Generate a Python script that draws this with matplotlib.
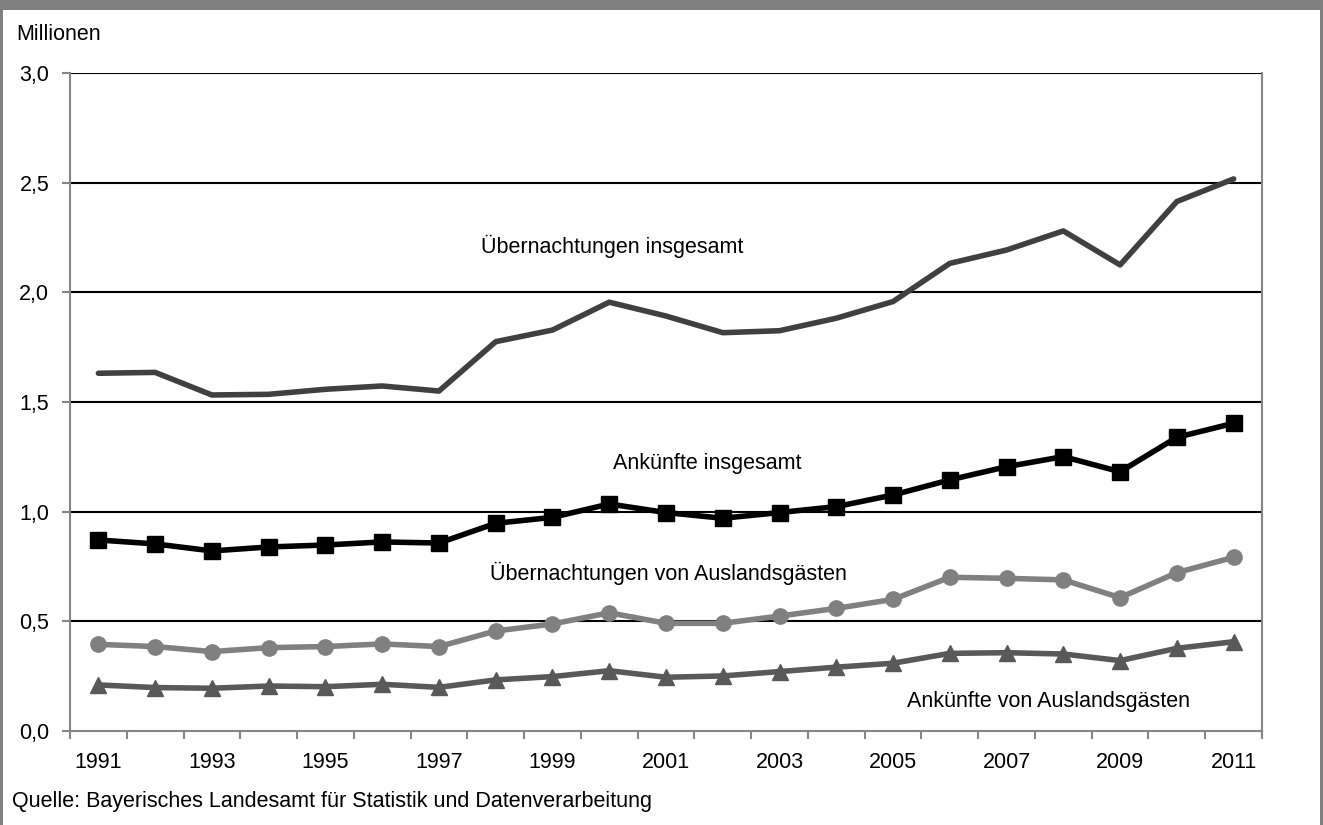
import matplotlib.pyplot as plt
from matplotlib.patches import Rectangle
import numpy as np

plt.rcParams['font.family'] = ['Liberation Sans', 'DejaVu Sans']

# Tourismus in Mio.: Übernachtungen und Ankünfte 1991-2011
jahre = list(range(1991, 2012))
uebernachtungen_gesamt = [1.631, 1.635, 1.532, 1.535, 1.558, 1.573, 1.550, 1.775, 1.828, 1.955,
                          1.892, 1.816, 1.825, 1.882, 1.958, 2.132, 2.193, 2.280, 2.125, 2.414, 2.517]
ankuenfte_gesamt = [0.871, 0.853, 0.821, 0.839, 0.848, 0.862, 0.857, 0.947, 0.974, 1.035,
                    0.996, 0.970, 0.996, 1.023, 1.076, 1.145, 1.205, 1.251, 1.182, 1.339, 1.403]
uebernachtungen_ausland = [0.395, 0.385, 0.362, 0.380, 0.385, 0.397, 0.385, 0.456, 0.488, 0.539,
                           0.491, 0.491, 0.524, 0.559, 0.600, 0.701, 0.696, 0.689, 0.608, 0.722, 0.792]
ankuenfte_ausland = [0.210, 0.198, 0.195, 0.205, 0.202, 0.213, 0.199, 0.233, 0.248, 0.275,
                     0.245, 0.251, 0.271, 0.291, 0.309, 0.354, 0.357, 0.351, 0.321, 0.377, 0.407]
y_ticks = [0.0, 0.5, 1.0, 1.5, 2.0, 2.5, 3.0]

W, H = 1323, 825
FS = 15.5
fig = plt.figure(figsize=(W / 100, H / 100), dpi=100, facecolor='white')
# grauer Rahmen oben, links und rechts
for r in [(0, (H - 10) / H, 1, 10 / H), (0, 0, 3 / W, 1), (1 - 3 / W, 0, 3 / W, 1)]:
    fig.patches.append(Rectangle(r[:2], r[2], r[3], transform=fig.transFigure,
                                 facecolor='#808080', edgecolor='none'))

ax = fig.add_axes([70 / W, (H - 731) / H, (1262 - 70) / W, (731 - 73) / H])
x = np.arange(len(jahre))

ax.plot(x, uebernachtungen_gesamt, color='#404040', lw=4, solid_capstyle='round', zorder=3)
ax.plot(x, ankuenfte_gesamt, color='black', lw=4, marker='s', ms=11, zorder=4)
ax.plot(x, uebernachtungen_ausland, color='#808080', lw=4, marker='o', ms=11, zorder=3)
ax.plot(x, ankuenfte_ausland, color='#595959', lw=4, marker='^', ms=11, zorder=3)

ax.set_xlim(-0.5, len(jahre) - 0.5)
ax.set_ylim(0, 3.0)
ax.set_yticks(y_ticks)
ax.set_yticklabels([f'{v:.1f}'.replace('.', ',') for v in y_ticks])
for v in y_ticks[1:]:
    ax.axhline(v, color='black', lw=1.5, zorder=1)

ax.set_xticks(np.arange(-0.5, len(jahre), 1.0))
ax.set_xticklabels([])
ax.set_xticks(x[::2], minor=True)
ax.set_xticklabels([str(j) for j in jahre[::2]], minor=True)
ax.tick_params(axis='x', which='major', length=6, width=1.5, color='#868686', direction='out')
ax.tick_params(axis='x', which='minor', length=0, pad=15, labelsize=FS)
ax.tick_params(axis='y', length=6, width=1.5, color='#868686', labelsize=FS, pad=9)

for side in ['left', 'right', 'bottom']:
    ax.spines[side].set_color('#868686')
    ax.spines[side].set_linewidth(1.5)
ax.spines['top'].set_visible(False)

# Beschriftungen der Reihen
ax.text(9.05, 2.21, 'Übernachtungen insgesamt', ha='center', va='center', fontsize=FS)
ax.text(10.72, 1.22, 'Ankünfte insgesamt', ha='center', va='center', fontsize=FS)
ax.text(10.04, 0.72, 'Übernachtungen von Auslandsgästen', ha='center', va='center', fontsize=FS)
ax.text(16.73, 0.134, 'Ankünfte von Auslandsgästen', ha='center', va='center', fontsize=FS)

fig.text(16 / W, 1 - 35 / H, 'Millionen', ha='left', va='center', fontsize=FS)
fig.text(12 / W, 1 - 801 / H, 'Quelle: Bayerisches Landesamt für Statistik und Datenverarbeitung',
         ha='left', va='center', fontsize=FS)

fig.savefig('out.png', dpi=100, facecolor=fig.get_facecolor())
